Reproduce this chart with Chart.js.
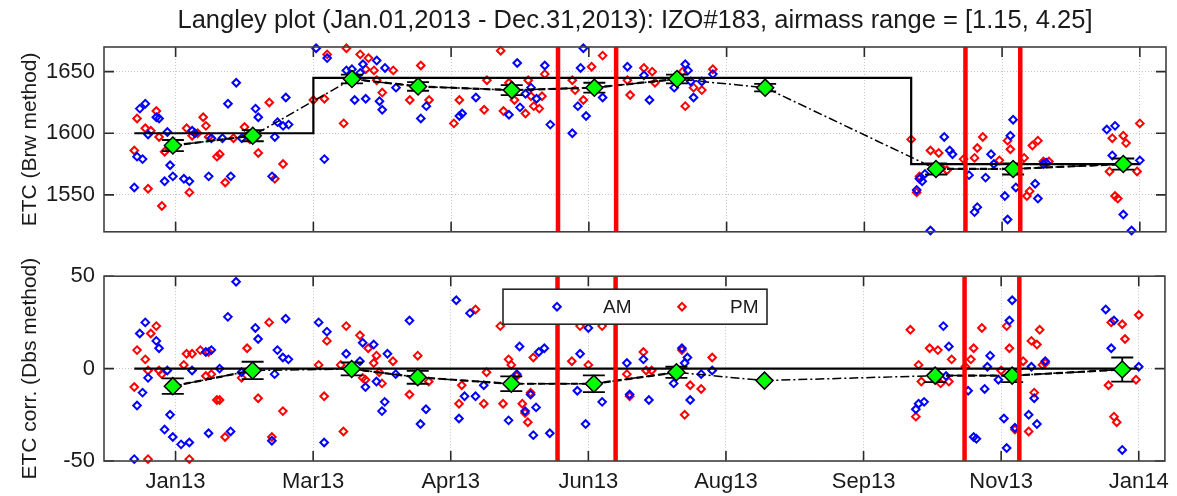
<!DOCTYPE html>
<html>
<head>
<meta charset="utf-8">
<title>Langley plot IZO#183</title>
<script src="https://cdn.jsdelivr.net/npm/chart.js@4/dist/chart.umd.min.js"></script>
<style>
  html, body { margin: 0; padding: 0; background: #fff; }
  #wrap { position: relative; width: 1177px; height: 496px; }
  canvas { position: absolute; left: 0; }
  #etcChart { top: 0; }
  #corrChart { top: 254px; }
</style>
</head>
<body>
<div id="wrap">
  <canvas id="etcChart" width="1177" height="254"></canvas>
  <canvas id="corrChart" width="1177" height="242"></canvas>
</div>
<script>
// x axis: day of year 2013
var X_MIN = -10, X_MAX = 375.5;
var tickDays = [16, 66, 116, 166, 216, 266, 316, 366];
var tickLabels = ['Jan13', 'Mar13', 'Apr13', 'Jun13', 'Aug13', 'Sep13', 'Nov13', 'Jan14'];

var plotTitle = 'Langley plot (Jan.01,2013 - Dec.31,2013): IZO#183, airmass range = [1.15, 4.25]';

var etcRange = [1520, 1670];
var etcTicks = [1550, 1600, 1650];
var corrRange = [-50, 50];
var corrTicks = [-50, 0, 50];

// calibration periods and the constant in use for each
var periodStart = [1, 66, 283];
var periodEnd = [66, 283, 366];
var periodEtc = [1600, 1645, 1575];
var periodCorr = [0, 0, 0];

// instrument events (red vertical lines)
var eventDays = [154.8, 175.9, 302.7, 322.6];

// period means with error bars
var meanDays = [15, 44, 80, 104, 138, 168, 198, 230, 292, 320, 360];
var meanEtc = [1590, 1598, 1644, 1638, 1635, 1637, 1644, 1637, 1571, 1571, 1575];
var errEtc = [4.5, 4.5, 3.5, 3.5, 4, 4, 3.5, 3, 4.5, 4.5, 4.5];
var meanCorr = [-9.5, -1, -0.2, -4.7, -8.2, -8.2, -2, -6.5, -3.8, -3.8, -0.5];
var errCorr = [4.2, 4.7, 3.5, 3.5, 4, 4.5, 3, 0, 3.5, 3.5, 6.5];
var meanGroup = [1, 1, 2, 2, 2, 2, 2, 0, 3, 3, 3];

// daily ETC, Brewer method [day, ETC]
var amEtc = [[1,1556],[2,1581],[3,1620],[4,1579],[5,1624],[6,1599],[9,1613],[10,1612],[12,1561],[13,1601],
  [14,1574],[15,1565],[19,1563],[21,1561],[22,1602],[23,1600],[28,1565],[29,1596],[33,1596],[35,1624],
  [36,1565],[38,1641],[40,1596],[45,1620],[46,1613],[51,1565],[52,1597],[53,1609],[55,1606],[56,1629],
  [57,1607],[67,1669],[70,1579],[71,1661],[78,1651],[80,1652],[81,1627],[83,1649],[84,1656],[85,1628],
  [89,1659],[90,1626],[91,1619],[92,1653],[96,1637],[105,1612],[107,1622],[119,1614],[120,1616],[125,1629],
  [137,1615],[140,1657],[141,1621],[143,1632],[145,1637],[147,1628],[150,1655],[152,1607],[160,1600],[162,1622],
  [163,1653],[164,1669],[165,1614],[171,1629],[180,1654],[186,1647],[188,1627],[197,1637],[201,1656],[202,1651],
  [203,1642],[204,1629],[207,1642],[211,1648],[285,1554],[286,1563],[287,1561],[288,1567],[290,1521],[295,1597],
  [297,1586],[298,1583],[304,1566],[306,1536],[307,1540],[310,1564],[312,1583],[313,1575],[317,1549],[318,1530],
  [319,1598],[320,1611],[321,1556],[328,1559],[329,1547],[331,1575],[332,1576],[354,1603],[356,1582],[357,1606],
  [360,1534],[363,1521],[366,1578]];
var pmEtc = [[1,1586],[2,1612],[5,1604],[6,1555],[7,1602],[9,1618],[10,1597],[11,1541],[12,1585],[20,1604],
  [21,1552],[22,1598],[24,1600],[26,1613],[27,1606],[28,1597],[31,1581],[32,1583],[34,1560],[37,1596],
  [41,1605],[42,1598],[43,1595],[46,1584],[50,1625],[52,1563],[55,1575],[66,1627],[70,1628],[71,1664],
  [77,1608],[78,1669],[83,1664],[85,1652],[86,1661],[88,1651],[89,1643],[91,1633],[95,1651],[101,1627],
  [105,1655],[108,1627],[117,1608],[119,1627],[128,1619],[129,1643],[134,1667],[135,1618],[137,1641],[139,1627],
  [143,1616],[144,1643],[145,1630],[146,1622],[148,1620],[149,1630],[150,1648],[160,1643],[161,1635],[164,1627],
  [167,1654],[171,1663],[180,1643],[181,1631],[186,1653],[189,1650],[190,1641],[200,1650],[201,1622],[204,1637],
  [207,1635],[211,1652],[283,1595],[285,1552],[286,1565],[290,1586],[293,1584],[294,1572],[296,1570],[302,1579],
  [306,1580],[307,1588],[309,1597],[315,1578],[318,1594],[319,1587],[324,1580],[325,1549],[326,1553],[327,1590],
  [329,1594],[331,1577],[333,1577],[355,1569],[356,1596],[357,1549],[358,1547],[360,1598],[361,1592],[365,1569],
  [366,1608]];

// ETC correction, Dobson method [day, correction]
var amCorr = [[1,-49],[2,-20],[3,19],[4,-13],[5,25],[6,-5],[9,15],[10,11],[12,-33],[13,-1],
  [14,-25],[15,-37],[18,-41],[21,-40],[22,-1],[27,9],[28,-35],[29,10],[32,0],[35,28],
  [36,-34],[38,47],[40,-2],[45,22],[46,16],[51,-39],[52,-3],[53,10],[55,6],[56,27],
  [57,5],[68,25],[70,-40],[71,20],[78,8],[83,4],[84,14],[85,-10],[88,13],[89,-7],
  [91,-23],[92,-18],[93,8],[96,-3],[101,26],[105,-30],[107,-22],[118,37],[119,-27],[121,-15],
  [123,30],[125,-15],[128,-9],[137,-28],[140,-3],[141,12],[143,-23],[145,-14],[146,-36],[147,-21],
  [148,9],[150,11],[152,-35],[162,-12],[163,8],[165,-30],[166,22],[171,-18],[180,3],[181,-14],
  [186,5],[188,-17],[197,-8],[200,11],[201,3],[202,6],[203,-17],[207,-3],[211,-1],[285,-22],
  [286,-19],[288,-18],[295,23],[296,-4],[297,12],[304,-12],[306,-37],[307,-38],[310,-11],[311,1],
  [312,7],[315,-6],[317,-27],[318,-43],[319,26],[320,37],[321,-32],[326,-25],[327,1],[328,-16],
  [329,-30],[332,4],[354,32],[356,11],[357,26],[360,-44],[366,1]];
var pmCorr = [[1,-10],[2,10],[5,5],[6,-1],[6,-49],[7,19],[9,23],[10,-1],[11,-3],[19,2],
  [20,8],[21,-49],[22,8],[25,10],[27,-4],[28,9],[29,-3],[31,-17],[32,-17],[34,-37],
  [40,-5],[42,11],[46,-16],[50,25],[51,-37],[55,-23],[68,2],[70,-15],[71,15],[76,2],
  [77,-34],[78,23],[83,18],[84,-5],[85,-6],[86,11],[88,3],[89,7],[90,-2],[91,-8],
  [95,4],[101,-14],[104,7],[108,-7],[119,-19],[120,-9],[125,32],[128,-19],[129,-2],[134,23],
  [135,-19],[137,5],[138,2],[140,-4],[142,-19],[143,-24],[144,-29],[145,-13],[146,6],[160,4],
  [163,23],[166,2],[171,23],[180,-3],[181,-15],[186,9],[187,-1],[189,-1],[200,10],[201,-25],
  [203,-9],[207,-11],[211,6],[283,21],[285,-26],[286,2],[287,-7],[290,11],[293,10],[294,-8],
  [297,-7],[298,5],[303,1],[305,5],[306,11],[309,22],[316,-1],[318,23],[319,11],[321,-33],
  [324,4],[326,-34],[327,15],[328,-13],[329,13],[330,21],[331,2],[332,3],[355,-9],[356,25],
  [357,-26],[358,-29],[360,24],[361,16],[365,-6],[366,29]];

var FONT = '"Liberation Sans", Arial, Helvetica, sans-serif';
Chart.defaults.font.family = FONT;
Chart.defaults.color = '#1a1a1a';

function toPoints(pairs) {
  return pairs.map(function(p) { return {x: p[0], y: p[1]}; });
}

function diamond(ctx, x, y, r) {
  ctx.beginPath();
  ctx.moveTo(x, y - r);
  ctx.lineTo(x + r, y);
  ctx.lineTo(x, y + r);
  ctx.lineTo(x - r, y);
  ctx.closePath();
}

// vertical error bars with caps, drawn just before the mean markers
var errorBars = {
  id: 'errorBars',
  beforeDatasetDraw: function(chart, args) {
    var ds = chart.data.datasets[args.index];
    if (!ds.errors) {
      return;
    }
    var ctx = chart.ctx, xs = chart.scales.x, ys = chart.scales.y;
    ctx.save();
    ctx.strokeStyle = '#000';
    ctx.lineWidth = 1.8;
    ctx.beginPath();
    ds.data.forEach(function(p, i) {
      var e = ds.errors[i];
      if (!e) {
        return;
      }
      var px = xs.getPixelForValue(p.x);
      var lo = ys.getPixelForValue(p.y - e), hi = ys.getPixelForValue(p.y + e);
      ctx.moveTo(px, lo); ctx.lineTo(px, hi);
      ctx.moveTo(px - 11, lo); ctx.lineTo(px + 11, lo);
      ctx.moveTo(px - 11, hi); ctx.lineTo(px + 11, hi);
    });
    ctx.stroke();
    ctx.restore();
  }
};

// box round the axes with inward tick marks on all four sides
var axesFrame = {
  id: 'axesFrame',
  afterDatasetsDraw: function(chart) {
    var ctx = chart.ctx, a = chart.chartArea, xs = chart.scales.x, ys = chart.scales.y;
    var len = 10;
    ctx.save();
    ctx.strokeStyle = '#2a2a2a';
    ctx.lineWidth = 1.6;
    ctx.beginPath();
    xs.ticks.forEach(function(t) {
      var px = xs.getPixelForValue(t.value);
      ctx.moveTo(px, a.top); ctx.lineTo(px, a.top + len);
      ctx.moveTo(px, a.bottom); ctx.lineTo(px, a.bottom - len);
    });
    ys.ticks.forEach(function(t) {
      var py = ys.getPixelForValue(t.value);
      ctx.moveTo(a.left, py); ctx.lineTo(a.left + len, py);
      ctx.moveTo(a.right, py); ctx.lineTo(a.right - len, py);
    });
    ctx.stroke();
    ctx.strokeStyle = '#404040';
    ctx.strokeRect(a.left, a.top, a.right - a.left, a.bottom - a.top);
    ctx.restore();
  }
};

// figure title centred over the axes
var axesTitle = {
  id: 'axesTitle',
  afterDraw: function(chart, args, opts) {
    var ctx = chart.ctx, a = chart.chartArea;
    ctx.save();
    ctx.fillStyle = '#1a1a1a';
    ctx.font = '25.5px ' + FONT;
    ctx.textAlign = 'center';
    ctx.textBaseline = 'middle';
    ctx.fillText(opts.text, (a.left + a.right) / 2, opts.y);
    ctx.restore();
  }
};

// boxed legend inside the lower axes
var boxLegend = {
  id: 'boxLegend',
  afterDatasetsDraw: function(chart, args, opts) {
    var ctx = chart.ctx, a = chart.chartArea;
    var left = a.left + opts.left, top = a.top + opts.top;
    var cy = top + opts.height / 2;
    ctx.save();
    ctx.fillStyle = '#fff';
    ctx.fillRect(left, top, opts.width, opts.height);
    ctx.strokeStyle = '#262626';
    ctx.lineWidth = 1.6;
    ctx.strokeRect(left, top, opts.width, opts.height);
    chart.data.datasets.filter(function(d) { return d.legendLabel; }).forEach(function(d, i) {
      ctx.strokeStyle = d.pointBorderColor;
      ctx.lineWidth = d.pointBorderWidth;
      diamond(ctx, left + opts.markerX[i], cy, d.pointRadius);
      ctx.stroke();
      ctx.fillStyle = '#1a1a1a';
      ctx.font = '19px ' + FONT;
      ctx.textAlign = 'left';
      ctx.textBaseline = 'middle';
      ctx.fillText(d.legendLabel, left + opts.textX[i], cy + 1);
    });
    ctx.restore();
  }
};

function scatterSet(label, pairs, color) {
  return {
    label: label,
    legendLabel: label,
    data: toPoints(pairs),
    pointStyle: 'rectRot',
    pointRadius: 3.8,
    pointBorderWidth: 2,
    pointBorderColor: color,
    pointBackgroundColor: 'rgba(255,255,255,0)',
    showLine: false,
    clip: false,
    order: 6
  };
}

function lineSet(points, width, dash, color, order) {
  return {
    data: points,
    showLine: true,
    pointRadius: 0,
    borderColor: color,
    borderWidth: width,
    borderDash: dash,
    fill: false,
    clip: false,
    order: order
  };
}

function makeDatasets(am, pm, means, errs, level, range) {
  var sets = [scatterSet('AM', am, '#0000ff'), scatterSet('PM', pm, '#ff0000')];

  // constant used in each calibration period
  var step = [];
  periodStart.forEach(function(s, i) {
    step.push({x: s, y: level[i]});
    step.push({x: periodEnd[i], y: level[i]});
  });
  sets.push(lineSet(step, 2.2, [], '#000', 5));

  // dashed trend of the means inside each period
  [1, 2, 3].forEach(function(g) {
    var pts = [];
    meanDays.forEach(function(d, i) {
      if (meanGroup[i] === g) {
        pts.push({x: d, y: means[i]});
      }
    });
    sets.push(lineSet(pts, 2.2, [7, 4], '#000', 4));
  });

  // dash-dot line through all the means
  sets.push(lineSet(meanDays.map(function(d, i) { return {x: d, y: means[i]}; }),
    1.5, [9, 3, 2, 3], '#000', 3));

  sets.push({
    data: meanDays.map(function(d, i) { return {x: d, y: means[i]}; }),
    errors: errs,
    pointStyle: 'rectRot',
    pointRadius: 8.5,
    pointBorderWidth: 1.5,
    pointBorderColor: '#000',
    pointBackgroundColor: '#00ff00',
    showLine: false,
    clip: false,
    order: 2
  });

  eventDays.forEach(function(d) {
    sets.push(lineSet([{x: d, y: range[0]}, {x: d, y: range[1]}], 4.5, [], '#ff0000', 1));
  });
  return sets;
}

function xScale(showLabels) {
  return {
    type: 'linear',
    min: X_MIN,
    max: X_MAX,
    afterBuildTicks: function(s) { s.ticks = tickDays.map(function(v) { return {value: v}; }); },
    afterFit: function(s) { s.height = showLabels ? 35 : 21; },
    ticks: {
      display: showLabels,
      autoSkip: false,
      maxRotation: 0,
      padding: 8,
      font: {size: 22},
      callback: function(v, i) { return tickLabels[i]; }
    },
    grid: {color: '#c4c4c4', lineWidth: 1, drawTicks: false},
    border: {display: false, dash: [1, 2]}
  };
}

function yScale(range, ticks, title) {
  return {
    type: 'linear',
    min: range[0],
    max: range[1],
    afterBuildTicks: function(s) { s.ticks = ticks.map(function(v) { return {value: v}; }); },
    afterFit: function(s) { s.width = 104; },
    ticks: {
      padding: 9,
      font: {size: 22},
      callback: function(v) { return String(v); }
    },
    grid: {color: '#c4c4c4', lineWidth: 1, drawTicks: false},
    border: {display: false, dash: [1, 2]},
    title: {display: true, text: title, font: {size: 21}, padding: {top: 18, bottom: 0}}
  };
}

function buildChart(id, cfg) {
  return new Chart(document.getElementById(id), {
    type: 'scatter',
    data: {datasets: cfg.datasets},
    options: {
      responsive: false,
      animation: false,
      events: [],
      layout: {padding: {top: cfg.padTop, right: 11, bottom: 0, left: 0}},
      plugins: {
        legend: {display: false},
        tooltip: {enabled: false},
        axesTitle: {text: plotTitle, y: 21},
        boxLegend: {left: 399, top: 13, width: 264, height: 35, markerX: [54, 179], textX: [100, 227]}
      },
      scales: {
        x: xScale(cfg.showX),
        y: yScale(cfg.range, cfg.ticks, cfg.yTitle)
      }
    },
    plugins: cfg.plugins
  });
}

buildChart('etcChart', {
  datasets: makeDatasets(amEtc, pmEtc, meanEtc, errEtc, periodEtc, etcRange),
  padTop: 47,
  showX: false,
  range: etcRange,
  ticks: etcTicks,
  yTitle: 'ETC (Brw method)',
  plugins: [errorBars, axesFrame, axesTitle]
});

buildChart('corrChart', {
  datasets: makeDatasets(amCorr, pmCorr, meanCorr, errCorr, periodCorr, corrRange),
  padTop: 21,
  showX: true,
  range: corrRange,
  ticks: corrTicks,
  yTitle: 'ETC corr. (Dbs method)',
  plugins: [errorBars, axesFrame, boxLegend]
});
</script>
</body>
</html>
